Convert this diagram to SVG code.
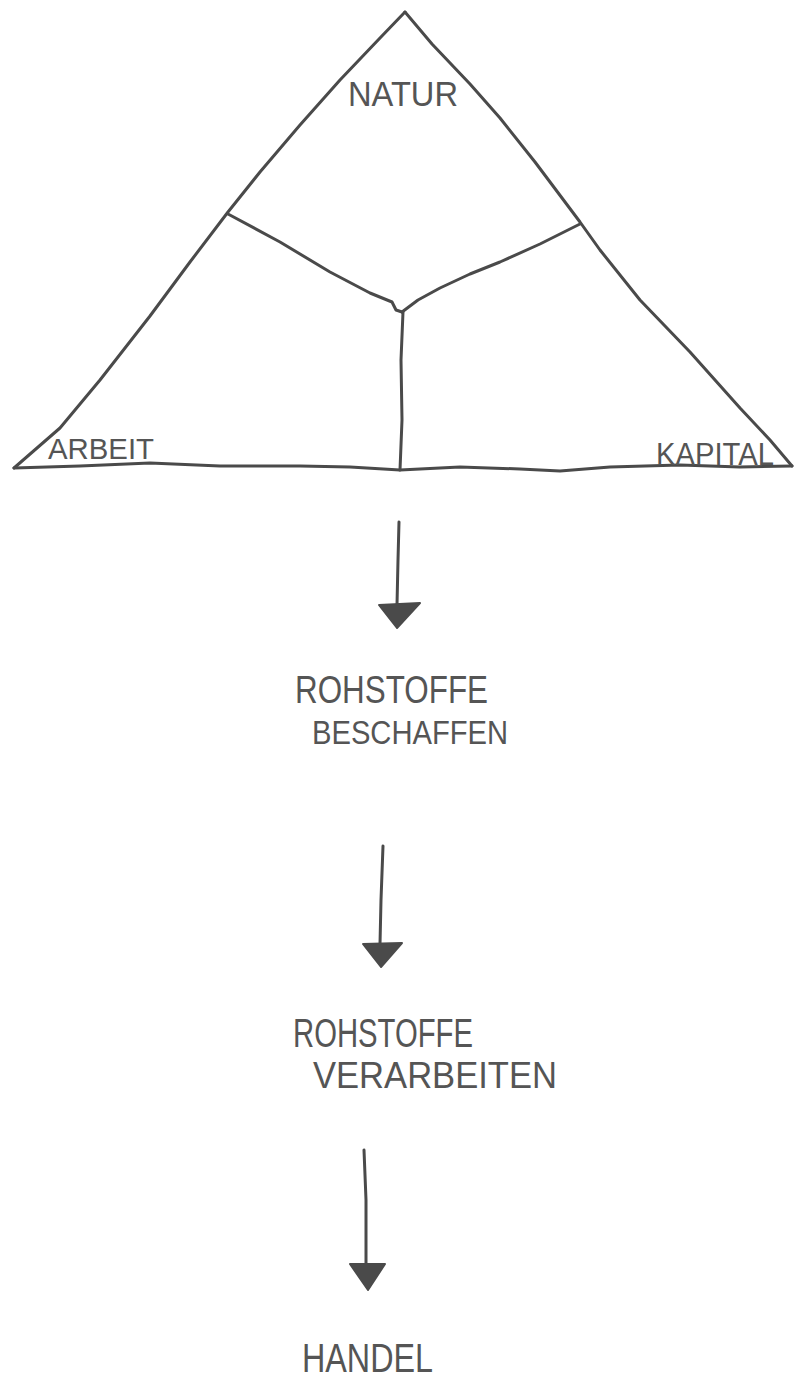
<svg xmlns="http://www.w3.org/2000/svg" width="794" height="1378" viewBox="0 0 794 1378">
<style>
.ln{fill:none;stroke:#4a4a4a;stroke-width:3;stroke-linecap:round;stroke-linejoin:round}
.lb{font-family:"Liberation Sans","DejaVu Sans",sans-serif;fill:#555;font-weight:normal}
.hd{fill:#4a4a4a;stroke:#4a4a4a;stroke-width:2;stroke-linejoin:round}
</style>
<rect width="794" height="1378" fill="#fff"/>
<g id="triangle">
<path class="ln" d="M405,12 L380,38 L340,80 L300,125 L260,172 L228,212 L190,262 L150,316 L100,380 L60,428 L14,468"/>
<path class="ln" d="M405,12 L432,44 L470,84 L500,118 L535,162 L580,222 L600,250 L640,300 L690,352 L740,408 L770,440 L792,466"/>
<path class="ln" d="M14,468 L80,466 L150,463 L220,466 L300,466 L350,467 L400,470 L460,467 L520,469 L560,471 L610,467 L680,465 L740,467 L792,466"/>
</g>
<g id="inner">
<path class="ln" d="M228,214 L280,242 L330,272 L370,293 L392,302 L396,310 L402,312"/>
<path class="ln" d="M580,224 L540,244 L500,262 L470,274 L440,288 L418,300 L402,312"/>
<path class="ln" d="M403,312 L401,360 L402,420 L400,470"/>
</g>
<g id="natur"><text class="lb" x="348" y="106" font-size="35" textLength="110" lengthAdjust="spacingAndGlyphs">NATUR</text></g>
<g id="arbeit"><text class="lb" x="48" y="459" font-size="30" textLength="106" lengthAdjust="spacingAndGlyphs">ARBEIT</text></g>
<g id="kapital"><text class="lb" x="656" y="465" font-size="32" textLength="118" lengthAdjust="spacingAndGlyphs">KAPITAL</text></g>
<g id="beschaffen">
<text class="lb" x="295" y="703" font-size="38" textLength="193" lengthAdjust="spacingAndGlyphs">ROHSTOFFE</text>
<text class="lb" x="312" y="744" font-size="33" textLength="196" lengthAdjust="spacingAndGlyphs">BESCHAFFEN</text>
</g>
<g id="verarbeiten">
<text class="lb" x="293" y="1047" font-size="41" textLength="180" lengthAdjust="spacingAndGlyphs">ROHSTOFFE</text>
<text class="lb" x="313" y="1088" font-size="37" textLength="244" lengthAdjust="spacingAndGlyphs">VERARBEITEN</text>
</g>
<g id="handel"><text class="lb" x="302" y="1372" font-size="40" textLength="131" lengthAdjust="spacingAndGlyphs">HANDEL</text></g>
<g id="connectors">
<path class="ln" d="M399,522 L398,560 L397,605" stroke-width="4"/>
<path class="hd" d="M379,605 L420,603 L397,628 Z"/>
<path class="ln" d="M383,846 L381,900 L380,944" stroke-width="3.5"/>
<path class="hd" d="M363,944 L402,943 L381,967 Z"/>
<path class="ln" d="M364,1150 L366,1200 L366,1264" stroke-width="3.5"/>
<path class="hd" d="M350,1264 L385,1264 L368,1290 Z"/>
</g>
</svg>
